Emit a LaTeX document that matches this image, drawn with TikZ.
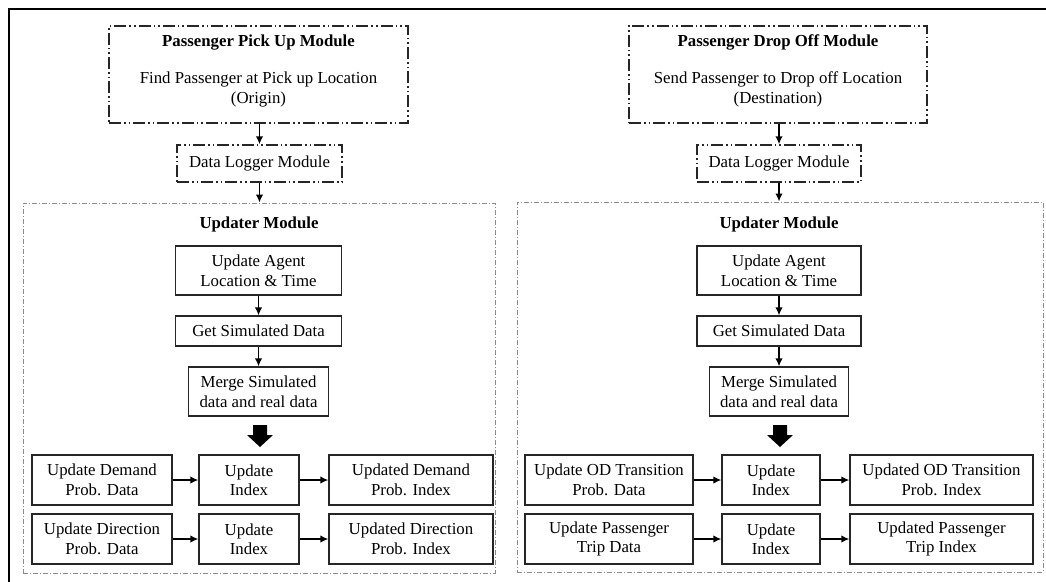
\documentclass[tikz,border=0pt]{standalone}
\usepackage{fontspec}
\setmainfont{Liberation Serif}
\usetikzlibrary{arrows.meta}
\begin{document}
\begin{tikzpicture}[x=1pt,y=-1pt,
  every node/.style={font=\fontsize{16.8}{19.5}\selectfont, inner sep=0pt, align=center},
  modbox/.style={draw=black!85, line width=1.4pt,
    dash pattern=on 12pt off 3pt on 1.6pt off 3pt on 1.6pt off 3pt},
  updbox/.style={draw=black!45, line width=0.9pt,
    dash pattern=on 5pt off 2pt on 1pt off 2pt},
  stepbox/.style={draw=black!85, line width=1.2pt},
  flow/.style={line width=1.8pt, -{Latex[length=8pt,width=7.5pt]}},
  bigarrow/.style={fill=black}
]
\useasboundingbox (0,0) rectangle (1046,581);

% outer frame (top and left edges)
\draw[line width=2.6pt] (9,590) -- (9,9) -- (1050,9);

% ---------------- pick up side ----------------
\node[modbox, minimum width=299pt, minimum height=97pt] (pickup) at (258.5,74.5) {};
\node (pickupT) at (258.5,46) [anchor=base] {\textbf{Passenger Pick Up Module}};
\node (pickupA) at (258.5,83) [anchor=base] {Find Passenger at Pick up Location};
\node (pickupB) at (258.5,103) [anchor=base] {(Origin)};

\node[modbox, minimum width=165pt, minimum height=37pt] (logL) at (259.5,163.5) {Data Logger Module};

\node[updbox, minimum width=472pt, minimum height=370pt] (updL) at (259,388) {};
\node (updLT) at (259,228) [anchor=base] {\textbf{Updater Module}};

\node[stepbox, minimum width=166pt, minimum height=49pt] (agentL) at (258.5,270.5) {Update Agent\\Location \& Time};
\node[stepbox, minimum width=166pt, minimum height=30pt] (simL) at (258.5,331) {Get Simulated Data};
\node[stepbox, minimum width=140pt, minimum height=49pt] (mergeL) at (258.5,391.5) {Merge Simulated\\data and real data};

\fill[bigarrow] (253,425) -- (267,425) -- (267,435) -- (273,435) -- (260,447)
  -- (247,435) -- (253,435) -- cycle;

\node[stepbox, minimum width=140pt, minimum height=50pt] (demL) at (102,480) {Update Demand\\Prob. Data};
\node[stepbox, minimum width=100pt, minimum height=50pt] (demM) at (249,480) {Update\\Index};
\node[stepbox, minimum width=164pt, minimum height=50pt] (demR) at (411,480) {Updated Demand\\Prob. Index};
\node[stepbox, minimum width=140pt, minimum height=50pt] (dirL) at (102,539) {Update Direction\\Prob. Data};
\node[stepbox, minimum width=100pt, minimum height=50pt] (dirM) at (249,539) {Update\\Index};
\node[stepbox, minimum width=164pt, minimum height=50pt] (dirR) at (411,539) {Updated Direction\\Prob. Index};

\draw[flow] (pickup.south -| logL) -- (logL.north);
\draw[flow] (logL.south) -- (logL.south |- updL.north);
\draw[flow] (agentL) -- (simL);
\draw[flow] (simL) -- (mergeL);
\draw[flow] (demL) -- (demM);
\draw[flow] (demM) -- (demR);
\draw[flow] (dirL) -- (dirM);
\draw[flow] (dirM) -- (dirR);

% ---------------- drop off side ----------------
\node[modbox, minimum width=298pt, minimum height=97pt] (drop) at (778,74.5) {};
\node (dropT) at (778,46) [anchor=base] {\textbf{Passenger Drop Off Module}};
\node (dropA) at (778,83) [anchor=base] {Send Passenger to Drop off Location};
\node (dropB) at (778,103) [anchor=base] {(Destination)};

\node[modbox, minimum width=164pt, minimum height=37pt] (logR) at (779,163.5) {Data Logger Module};

\node[updbox, minimum width=526pt, minimum height=370pt] (updR) at (780,387) {};
\node (updRT) at (779,228) [anchor=base] {\textbf{Updater Module}};

\node[stepbox, minimum width=164pt, minimum height=49pt] (agentR) at (779,270.5) {Update Agent\\Location \& Time};
\node[stepbox, minimum width=164pt, minimum height=30pt] (simR) at (779,331) {Get Simulated Data};
\node[stepbox, minimum width=139pt, minimum height=49pt] (mergeR) at (779,391.5) {Merge Simulated\\data and real data};

\fill[bigarrow] (773,425) -- (787,425) -- (787,435) -- (793,435) -- (780,447)
  -- (767,435) -- (773,435) -- cycle;

\node[stepbox, minimum width=168pt, minimum height=50pt] (odL) at (609,480) {Update OD Transition\\Prob. Data};
\node[stepbox, minimum width=98pt, minimum height=50pt] (odM) at (771,480) {Update\\Index};
\node[stepbox, minimum width=183pt, minimum height=50pt] (odR) at (941.5,480) {Updated OD Transition\\Prob. Index};
\node[stepbox, minimum width=168pt, minimum height=50pt] (tripL) at (609,539) {Update Passenger\\Trip Data};
\node[stepbox, minimum width=98pt, minimum height=50pt] (tripM) at (771,539) {Update\\Index};
\node[stepbox, minimum width=183pt, minimum height=50pt] (tripR) at (941.5,539) {Updated Passenger\\Trip Index};

\draw[flow] (drop.south -| logR) -- (logR.north);
\draw[flow] (logR.south) -- (logR.south |- updR.north);
\draw[flow] (agentR) -- (simR);
\draw[flow] (simR) -- (mergeR);
\draw[flow] (odL) -- (odM);
\draw[flow] (odM) -- (odR);
\draw[flow] (tripL) -- (tripM);
\draw[flow] (tripM) -- (tripR);
\end{tikzpicture}
\end{document}
